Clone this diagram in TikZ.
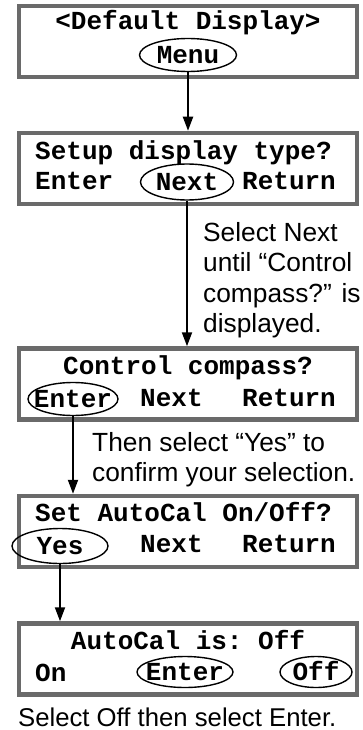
\documentclass[tikz,border=0pt]{standalone}
\usepackage{fontspec}
\setmainfont{Liberation Sans}
\setmonofont{Liberation Mono}
\usepackage{tikz}
\usetikzlibrary{arrows.meta, shapes.geometric}
\definecolor{bezel}{HTML}{6A6A6A}

\begin{document}
\begin{tikzpicture}[x=1pt, y=-1pt,
    screen/.style={draw=bezel, line width=4.5pt, minimum width=338pt, minimum height=71pt, inner sep=0pt},
    lcd/.style={font=\ttfamily\bfseries\fontsize{26}{30}\selectfont, inner sep=0pt, text height=16.5pt, text depth=0pt},
    softkey/.style={lcd, ellipse, draw, line width=1.4pt, inner xsep=-12pt, inner ysep=-4pt, minimum height=33pt},
    note/.style={font=\fontsize{26.3}{30.5}\selectfont, inner sep=0pt, align=left},
    flow/.style={-{Triangle[width=10pt, length=14pt]}, line width=2pt}]
    \useasboundingbox (0,0) rectangle (362,730);
    % Screens
    \node[screen] (scr1) at (188,41.5) {};
    \node[screen] (scr2) at (188,168.5) {};
    \node[screen] (scr3) at (188,384) {};
    \node[screen] (scr4) at (188,531.5) {};
    \node[screen] (scr5) at (188,659) {};
    % Screen 1
    \node[lcd] (t1) at (188,21) {<Default Display>};
    \node[softkey, minimum width=97pt] (menu) at (188,55) {Menu};
    % Screen 2
    \node[lcd, anchor=west] (t2) at (35,151) {Setup display type?};
    \node[lcd, anchor=west] (enter2) at (35,181) {Enter};
    \node[softkey, minimum width=93pt, minimum height=36pt] (next2) at (187,182) {Next};
    \node[lcd, anchor=west] (ret2) at (242,181) {Return};
    % Screen 3
    \node[lcd] (t3) at (188,366) {Control compass?};
    \node[softkey, minimum width=90pt] (enter3) at (73,399) {Enter};
    \node[lcd, anchor=west] (next3) at (140,398) {Next};
    \node[lcd, anchor=west] (ret3) at (242,398) {Return};
    % Screen 4
    \node[lcd, anchor=west] (t4) at (35,513) {Set AutoCal On/Off?};
    \node[softkey, minimum width=96pt, minimum height=35pt] (yes4) at (60,546) {Yes};
    \node[lcd, anchor=west] (next4) at (140,544) {Next};
    \node[lcd, anchor=west] (ret4) at (242,544) {Return};
    % Screen 5
    \node[lcd] (t5) at (188,641) {AutoCal is: Off};
    \node[lcd, anchor=west] (on5) at (35,673) {On};
    \node[softkey, minimum width=96pt, minimum height=31pt] (enter5) at (185,672) {Enter};
    \node[softkey, minimum width=72pt, minimum height=31pt] (off5) at (316,672) {Off};
    % Notes
    \node[note, anchor=north west] (hint1) at (203,222) {Select Next\\until “Control\\compass?” is\\displayed.};
    \node[note, anchor=north west, font=\fontsize{26.3}{30}\selectfont] (hint2) at (92,432) {Then select “Yes” to\\confirm your selection.};
    \node[note, anchor=base west, font=\fontsize{25.7}{30}\selectfont] (caption) at (18,726) {Select Off then select Enter.};
    % Flow
    \draw[flow] (menu.south) -- (scr2.north);
    \draw[flow] (next2.south) -- (next2.south |- scr3.north);
    \draw[flow] (enter3.south) -- (enter3.south |- scr4.north);
    \draw[flow] (yes4.south) -- (yes4.south |- scr5.north);
\end{tikzpicture}
\end{document}
